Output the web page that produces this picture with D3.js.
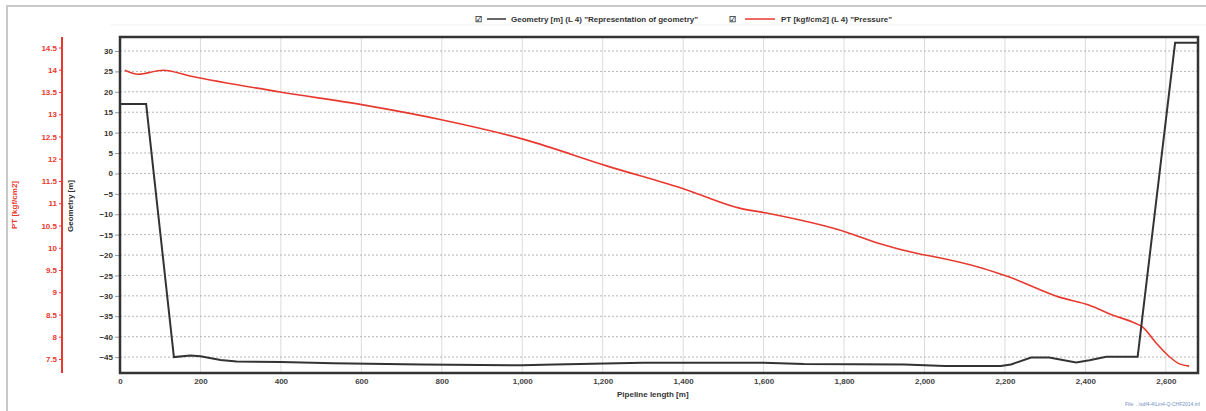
<!DOCTYPE html>
<html lang="en">
<head>
    <meta charset="UTF-8">
    <title>Geometry and pressure along pipeline</title>
    <script src="https://d3js.org/d3.v7.min.js"></script>
    <style>
        body {
            margin: 0;
            background: #fff;
        }
        svg {
            display: block;
            font-family: "Liberation Sans", Arial, sans-serif;
            font-weight: bold;
        }
    </style>
</head>
<body>
    <div id="chart"></div>

    <script>
        const width = 1206;
        const height = 411;

        // pipeline length [m] and geometry [m] (black line)
        const geoLength = [0, 65, 134, 175, 200, 250, 290, 400, 530, 750, 1000, 1080, 1300, 1600, 1700, 1950, 2050, 2190, 2215, 2265, 2310, 2377, 2410, 2452, 2530, 2623, 2680];
        const geoValue  = [17, 17, -45, -44.6, -44.8, -45.7, -46.1, -46.2, -46.5, -46.8, -47, -46.8, -46.4, -46.4, -46.7, -46.8, -47.2, -47.2, -46.8, -45.1, -45.1, -46.3, -45.8, -44.9, -44.9, 32, 32];

        // pipeline length [m] and pressure PT [kgf/cm2] (red line)
        const ptLength = [12, 45, 107, 174, 398, 604, 802, 1006, 1210, 1409, 1540, 1607, 1806, 1881, 1988, 2012, 2144, 2211, 2335, 2410, 2467, 2517, 2542, 2576, 2609, 2634, 2658];
        const ptValue  = [13.99, 13.9, 13.99, 13.86, 13.5, 13.21, 12.87, 12.43, 11.84, 11.3, 10.89, 10.78, 10.35, 10.11, 9.86, 9.82, 9.54, 9.34, 8.89, 8.71, 8.49, 8.33, 8.22, 7.86, 7.55, 7.39, 7.34];

        const xTicks = [0, 200, 400, 600, 800, 1000, 1200, 1400, 1600, 1800, 2000, 2200, 2400, 2600];
        const geoTicks = [30, 25, 20, 15, 10, 5, 0, -5, -10, -15, -20, -25, -30, -35, -40, -45];
        const ptTicks = [14.5, 14, 13.5, 13, 12.5, 12, 11.5, 11, 10.5, 10, 9.5, 9, 8.5, 8, 7.5];

        const red = "#e8392f";
        const dark = "#333";

        const plot = {left: 120, right: 1198, top: 37, bottom: 373};

        const svg = d3.select("#chart")
                      .append("svg")
                      .attr("width", width)
                      .attr("height", height);

        // outer frame
        svg.append("rect")
           .attr("x", 7).attr("y", 6)
           .attr("width", width + 20).attr("height", height + 20)
           .attr("fill", "none")
           .attr("stroke", "#c9c9c9")
           .attr("stroke-width", 2);

        svg.append("line")
           .attr("x1", 110).attr("x2", width)
           .attr("y1", 25).attr("y2", 25)
           .attr("stroke", "#f2f2f2");

        const x = d3.scaleLinear().domain([0, 2680]).range([plot.left, plot.right]);
        const yGeo = d3.scaleLinear().domain([-48.9, 33.43]).range([plot.bottom, plot.top]);
        const yPt = d3.scaleLinear().domain([7.185, 14.736]).range([plot.bottom, plot.top]);

        // grid
        svg.append("g")
           .selectAll("line")
           .data(xTicks.slice(1))
           .enter()
           .append("line")
           .attr("x1", d => x(d)).attr("x2", d => x(d))
           .attr("y1", plot.top).attr("y2", plot.bottom)
           .attr("stroke", "#dcdcdc");

        svg.append("g")
           .selectAll("line")
           .data(geoTicks)
           .enter()
           .append("line")
           .attr("x1", plot.left).attr("x2", plot.right)
           .attr("y1", d => yGeo(d)).attr("y2", d => yGeo(d))
           .attr("stroke", "#b5b5b5")
           .attr("stroke-dasharray", "2,2");

        // axes
        const xAxis = svg.append("g")
           .attr("transform", `translate(0,${plot.bottom + 2})`)
           .call(d3.axisBottom(x).tickValues(xTicks).tickSize(0).tickFormat(d3.format(",")));
        xAxis.select(".domain").remove();

        const geoAxis = svg.append("g")
           .attr("transform", `translate(${plot.left},0)`)
           .call(d3.axisLeft(yGeo).tickValues(geoTicks).tickSize(5).tickPadding(2));
        geoAxis.select(".domain").remove();

        const ptAxis = svg.append("g")
           .attr("transform", `translate(62,0)`)
           .call(d3.axisLeft(yPt).tickValues(ptTicks).tickSize(3).tickPadding(2).tickFormat(d3.format("")));
        ptAxis.select(".domain").remove();
        ptAxis.append("line")
              .attr("y1", plot.top).attr("y2", plot.bottom)
              .attr("stroke", red).attr("stroke-width", 2);

        svg.selectAll(".tick text")
           .attr("font-family", "Liberation Sans, Arial, sans-serif")
           .attr("font-weight", "bold")
           .attr("font-size", 8);
        xAxis.selectAll("text").attr("fill", "#444");
        geoAxis.selectAll("text").attr("fill", dark);
        geoAxis.selectAll(".tick line").attr("stroke", "#999");
        ptAxis.selectAll(".tick text").attr("fill", red);
        ptAxis.selectAll(".tick line").attr("stroke", red);

        // lines
        const geoLine = d3.line()
            .x((d, i) => x(geoLength[i]))
            .y(d => yGeo(d));

        const ptLine = d3.line()
            .x((d, i) => x(ptLength[i]))
            .y(d => yPt(d))
            .curve(d3.curveMonotoneX);

        svg.append("path")
           .attr("d", ptLine(ptValue))
           .attr("fill", "none")
           .attr("stroke", red)
           .attr("stroke-width", 1.6);

        svg.append("path")
           .attr("d", geoLine(geoValue))
           .attr("fill", "none")
           .attr("stroke", dark)
           .attr("stroke-width", 2);

        // plot border
        svg.append("rect")
           .attr("x", plot.left).attr("y", plot.top)
           .attr("width", plot.right - plot.left).attr("height", plot.bottom - plot.top)
           .attr("fill", "none")
           .attr("stroke", dark)
           .attr("stroke-width", 2.5);

        // axis titles
        svg.append("text")
           .attr("transform", "translate(17,205) rotate(-90)")
           .attr("text-anchor", "middle")
           .attr("font-size", 8)
           .attr("fill", red)
           .text("PT [kgf/cm2]");

        svg.append("text")
           .attr("transform", "translate(73,206) rotate(-90)")
           .attr("text-anchor", "middle")
           .attr("font-size", 8)
           .attr("fill", dark)
           .text("Geometry [m]");

        svg.append("text")
           .attr("x", 617).attr("y", 397)
           .attr("font-size", 8)
           .attr("fill", dark)
           .text("Pipeline length [m]");

        // legend
        const legend = svg.append("g").attr("font-size", 8).attr("fill", dark);
        legend.append("text").attr("x", 475).attr("y", 22).text("☑");
        legend.append("line").attr("x1", 487).attr("x2", 506).attr("y1", 19).attr("y2", 19)
              .attr("stroke", dark).attr("stroke-width", 1.5);
        legend.append("text").attr("x", 511).attr("y", 22)
              .text("Geometry [m] (L 4) \"Representation of geometry\"");
        legend.append("text").attr("x", 729).attr("y", 22).text("☑");
        legend.append("line").attr("x1", 745).attr("x2", 775).attr("y1", 19).attr("y2", 19)
              .attr("stroke", red).attr("stroke-width", 1.5);
        legend.append("text").attr("x", 781).attr("y", 22)
              .text("PT [kgf/cm2] (L 4) \"Pressure\"");

        // file note
        svg.append("text")
           .attr("x", 1200).attr("y", 406)
           .attr("text-anchor", "end")
           .attr("font-size", 5)
           .attr("font-weight", "normal")
           .attr("fill", "#6f8fbf")
           .text("File: ..\\sdf4-4\\Lin4-Q-CHF2014.inf");
    </script>
</body>
</html>
